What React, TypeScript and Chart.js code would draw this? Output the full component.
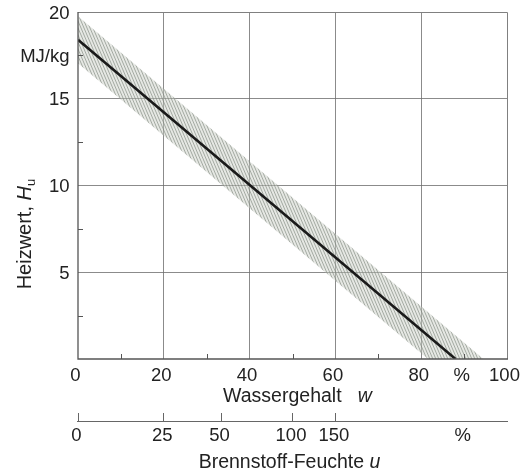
import { useEffect, useRef } from 'react';
import { Chart, registerables } from 'chart.js';

Chart.register(...registerables);

// ---- data ----
const centerLine = [
  { x: 0, y: 18.4 },
  { x: 88, y: 0 },
];
const bandUpper = [
  { x: 0, y: 19.75 },
  { x: 100, y: -1.15 },
];
const bandLower = [
  { x: 0, y: 17.05 },
  { x: 100, y: -3.85 },
];
const wTicks = [0, 10, 20, 30, 40, 50, 60, 70, 80, 90, 100];
const wLabels = ['0', '', '20', '', '40', '', '60', '', '80', '%', '100'];
const wMajor = [20, 40, 60, 80];
const wMinor = [10, 30, 50, 70, 90];
const hTicks = [0, 2.5, 5, 7.5, 10, 12.5, 15, 17.5, 20];
const hLabels = ['', '', '5', '', '10', '', '15', 'MJ/kg', '20'];
const hMajor = [5, 10, 15];
const hMinor = [2.5, 7.5, 12.5, 17.5];
const uTicks = [0, 25, 50, 100, 150];
const uLabels = ['0', '25', '50', '100', '150'];
const uUnitAt = 90;

const FONT = "'Liberation Sans', Arial, Helvetica, sans-serif";
const TEXT = '#222';
const GRID = 'rgba(110,110,110,0.8)';
const AXIS = '#555';

function makePattern(): CanvasPattern | string {
  const c = document.createElement('canvas');
  c.width = 3;
  c.height = 7;
  const g = c.getContext('2d');
  if (!g) return 'rgba(190,195,185,0.5)';
  g.fillStyle = 'rgba(200,205,195,0.45)';
  g.fillRect(0, 0, 3, 7);
  g.strokeStyle = 'rgba(120,128,118,0.6)';
  g.lineWidth = 1;
  for (const dx of [-3, 0, 3]) {
    g.beginPath();
    g.moveTo(dx, 0);
    g.lineTo(dx + 3, 7);
    g.stroke();
  }
  return g.createPattern(c, 'repeat') || 'rgba(190,195,185,0.5)';
}

type Part = { t: string; font: string; dy: number };

function drawParts(ctx: CanvasRenderingContext2D, parts: Part[], cx: number, baseY: number) {
  let total = 0;
  const widths = parts.map((p) => {
    ctx.font = p.font;
    const w = ctx.measureText(p.t).width;
    total += w;
    return w;
  });
  let x = cx - total / 2;
  ctx.textBaseline = 'alphabetic';
  ctx.textAlign = 'left';
  parts.forEach((p, i) => {
    ctx.font = p.font;
    ctx.fillText(p.t, x, baseY + p.dy);
    x += widths[i];
  });
}

const decorPlugin = {
  id: 'decor',
  afterDraw(chart: any) {
    const ctx: CanvasRenderingContext2D = chart.ctx;
    const { left, right, top, bottom } = chart.chartArea;
    const xs = chart.scales.x;
    const ys = chart.scales.y;
    const x2 = chart.scales.x2;
    ctx.save();
    // frame
    ctx.lineWidth = 1;
    ctx.strokeStyle = '#808080';
    ctx.beginPath();
    ctx.moveTo(left, top + 0.5);
    ctx.lineTo(right + 0.5, top + 0.5);
    ctx.lineTo(right + 0.5, bottom);
    ctx.stroke();
    ctx.strokeStyle = AXIS;
    ctx.lineWidth = 1.3;
    ctx.beginPath();
    ctx.moveTo(left, top);
    ctx.lineTo(left, bottom);
    ctx.lineTo(right + 1, bottom);
    ctx.stroke();
    // minor inward ticks
    ctx.lineWidth = 1;
    ctx.strokeStyle = AXIS;
    ctx.beginPath();
    for (const v of wMinor) {
      const px = Math.round(xs.getPixelForValue(v)) + 0.5;
      ctx.moveTo(px, bottom);
      ctx.lineTo(px, bottom - 5);
    }
    for (const v of hMinor) {
      const py = Math.round(ys.getPixelForValue(v)) + 0.5;
      ctx.moveTo(left, py);
      ctx.lineTo(left + 5, py);
    }
    ctx.stroke();
    // secondary axis line
    const ly = Math.round(x2.top + 8) + 0.5;
    ctx.strokeStyle = '#666';
    ctx.beginPath();
    ctx.moveTo(x2.getPixelForValue(0) - 1, ly);
    ctx.lineTo(x2.getPixelForValue(100) + 1, ly);
    ctx.stroke();
    // titles
    ctx.fillStyle = TEXT;
    const f = (s: number, it = false) => `${it ? 'italic ' : ''}${s}px ${FONT}`;
    drawParts(
      ctx,
      [
        { t: 'Wassergehalt', font: f(19.5), dy: 0 },
        { t: '   ', font: f(19.5), dy: 0 },
        { t: 'w', font: f(19.5, true), dy: 0 },
      ],
      (left + right) / 2 + 5,
      bottom + 43
    );
    drawParts(
      ctx,
      [
        { t: 'Brennstoff-Feuchte ', font: f(19.5), dy: 0 },
        { t: 'u', font: f(19.5, true), dy: 0 },
      ],
      (left + right) / 2 - 3,
      x2.top + 55
    );
    ctx.save();
    ctx.translate(left - 47.5, top + 0.64 * (bottom - top));
    ctx.rotate(-Math.PI / 2);
    drawParts(
      ctx,
      [
        { t: 'Heizwert, ', font: f(20), dy: 0 },
        { t: 'H', font: f(20, true), dy: 0 },
        { t: 'u', font: f(13), dy: 4 },
      ],
      0,
      0
    );
    ctx.restore();
    ctx.restore();
  },
};

export default function App() {
  const ref = useRef<HTMLCanvasElement | null>(null);
  useEffect(() => {
    document.body.style.margin = '0';
    const canvas = ref.current;
    if (!canvas) return;
    const pattern = makePattern();
    const tickFont = { family: FONT, size: 18.5 };
    const chart = new Chart(canvas, {
      type: 'line',
      data: {
        datasets: [
          {
            data: bandUpper,
            borderWidth: 0,
            pointRadius: 0,
            fill: false,
            order: 2,
            backgroundColor: pattern as any,
          },
          {
            data: bandLower,
            borderWidth: 0,
            pointRadius: 0,
            fill: '-1',
            order: 1,
            backgroundColor: pattern as any,
          },
          {
            data: centerLine,
            borderColor: '#1a1a1a',
            borderWidth: 2.6,
            pointRadius: 0,
            fill: false,
            order: 0,
          },
        ],
      },
      options: {
        animation: false,
        responsive: false,
        devicePixelRatio: 1,
        layout: { padding: { top: 12, right: 14, bottom: 0, left: 0 } },
        plugins: { legend: { display: false }, tooltip: { enabled: false } },
        elements: { line: { tension: 0 } },
        scales: {
          x: {
            type: 'linear',
            position: 'bottom',
            weight: 0,
            min: 0,
            max: 100,
            afterBuildTicks: (s: any) => {
              s.ticks = wTicks.map((v) => ({ value: v }));
            },
            afterFit: (s: any) => {
              s.height = 54;
              s.paddingLeft = 0;
              s.paddingRight = 14;
            },
            ticks: {
              autoSkip: false,
              maxRotation: 0,
              padding: 6,
              labelOffset: -2.5,
              color: TEXT,
              font: tickFont,
              callback: (_v: any, i: number) => wLabels[i],
            },
            grid: {
              drawTicks: false,
              lineWidth: 1,
              color: (c: any) => (c.tick && wMajor.includes(c.tick.value) ? GRID : 'transparent'),
            },
            border: { display: false },
          },
          x2: {
            type: 'linear',
            position: 'bottom',
            weight: 1,
            min: 0,
            max: 100,
            afterBuildTicks: (s: any) => {
              s.ticks = [...uTicks.map((u) => ({ value: (100 * u) / (100 + u) })), { value: uUnitAt }];
            },
            afterFit: (s: any) => {
              s.height = 57;
              s.paddingLeft = 0;
              s.paddingRight = 14;
            },
            ticks: {
              autoSkip: false,
              maxRotation: 0,
              padding: 4,
              labelOffset: -1.5,
              color: TEXT,
              font: tickFont,
              callback: (_v: any, i: number) => (i < uLabels.length ? uLabels[i] : '%'),
            },
            grid: {
              drawOnChartArea: false,
              drawTicks: true,
              tickLength: 8,
              lineWidth: 1,
              color: (c: any) => (c.index < uTicks.length ? '#666' : 'transparent'),
              tickColor: (c: any) => (c.index < uTicks.length ? '#666' : 'transparent'),
            },
            border: { display: false },
          },
          y: {
            type: 'linear',
            position: 'left',
            min: 0,
            max: 20,
            afterBuildTicks: (s: any) => {
              s.ticks = hTicks.map((v) => ({ value: v }));
            },
            afterFit: (s: any) => {
              s.width = 78;
              s.paddingTop = 12;
              s.paddingBottom = 0;
            },
            ticks: {
              autoSkip: false,
              padding: 8.5,
              labelOffset: 1.5,
              color: TEXT,
              font: tickFont,
              callback: (_v: any, i: number) => hLabels[i],
            },
            grid: {
              drawTicks: false,
              lineWidth: 1,
              color: (c: any) => (c.tick && hMajor.includes(c.tick.value) ? GRID : 'transparent'),
            },
            border: { display: false },
          },
        },
      } as any,
      plugins: [decorPlugin],
    });
    return () => chart.destroy();
  }, []);
  return (
    <div style={{ width: 521, height: 470, background: '#fff' }}>
      <canvas ref={ref} width={521} height={470} style={{ display: 'block' }} />
    </div>
  );
}
